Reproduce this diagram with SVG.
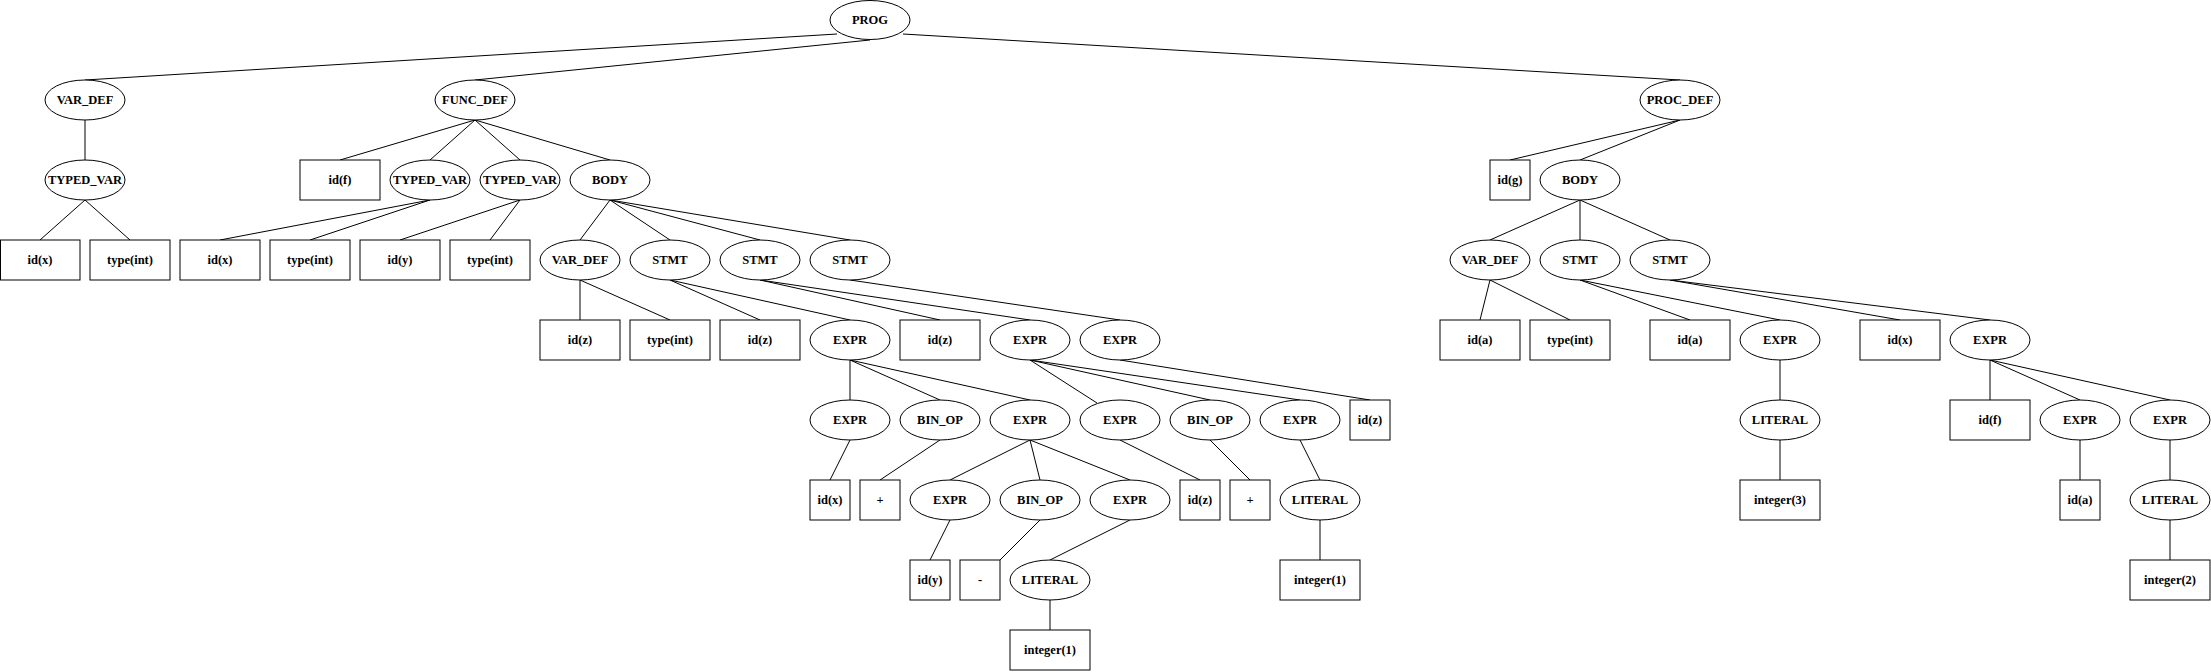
<svg xmlns="http://www.w3.org/2000/svg" width="2211" height="672" viewBox="0 0 2211 672">
<style>
.e{fill:#fff;stroke:#000;stroke-width:1}
.r{fill:#fff;stroke:#000;stroke-width:1}
.t{font-family:"Liberation Serif","Times New Roman",serif;font-weight:bold;font-size:12.5px;text-anchor:middle;dominant-baseline:central;fill:#000}
#edges line{stroke:#000;stroke-width:1}
</style>
<rect width="2211" height="672" fill="#fff"/>
<g id="edges">
<line x1="837" y1="34" x2="85" y2="80"/>
<line x1="870" y1="40" x2="475" y2="80"/>
<line x1="903" y1="34" x2="1680" y2="80"/>
<line x1="85" y1="120" x2="85" y2="160"/>
<line x1="85" y1="200" x2="40" y2="240"/>
<line x1="85" y1="200" x2="130" y2="240"/>
<line x1="475" y1="120" x2="340" y2="160"/>
<line x1="475" y1="120" x2="430" y2="160"/>
<line x1="475" y1="120" x2="520" y2="160"/>
<line x1="475" y1="120" x2="610" y2="160"/>
<line x1="430" y1="200" x2="220" y2="240"/>
<line x1="430" y1="200" x2="310" y2="240"/>
<line x1="520" y1="200" x2="400" y2="240"/>
<line x1="520" y1="200" x2="490" y2="240"/>
<line x1="610" y1="200" x2="580" y2="240"/>
<line x1="610" y1="200" x2="670" y2="240"/>
<line x1="610" y1="200" x2="760" y2="240"/>
<line x1="610" y1="200" x2="850" y2="240"/>
<line x1="580" y1="280" x2="580" y2="320"/>
<line x1="580" y1="280" x2="670" y2="320"/>
<line x1="670" y1="280" x2="760" y2="320"/>
<line x1="670" y1="280" x2="850" y2="320"/>
<line x1="760" y1="280" x2="940" y2="320"/>
<line x1="760" y1="280" x2="1030" y2="320"/>
<line x1="850" y1="280" x2="1120" y2="320"/>
<line x1="850" y1="360" x2="850" y2="400"/>
<line x1="850" y1="360" x2="940" y2="400"/>
<line x1="850" y1="360" x2="1030" y2="400"/>
<line x1="1030" y1="360" x2="1097" y2="403"/>
<line x1="1030" y1="360" x2="1210" y2="400"/>
<line x1="1030" y1="360" x2="1300" y2="400"/>
<line x1="1120" y1="360" x2="1370" y2="400"/>
<line x1="850" y1="440" x2="830" y2="480"/>
<line x1="940" y1="440" x2="880" y2="480"/>
<line x1="1030" y1="440" x2="950" y2="480"/>
<line x1="1030" y1="440" x2="1040" y2="480"/>
<line x1="1030" y1="440" x2="1130" y2="480"/>
<line x1="1120" y1="440" x2="1200" y2="480"/>
<line x1="1210" y1="440" x2="1250" y2="480"/>
<line x1="1300" y1="440" x2="1320" y2="480"/>
<line x1="950" y1="520" x2="930" y2="560"/>
<line x1="1040" y1="520" x2="1000" y2="560"/>
<line x1="1130" y1="520" x2="1050" y2="560"/>
<line x1="1050" y1="600" x2="1050" y2="630"/>
<line x1="1320" y1="520" x2="1320" y2="560"/>
<line x1="1680" y1="120" x2="1510" y2="160"/>
<line x1="1680" y1="120" x2="1580" y2="160"/>
<line x1="1580" y1="200" x2="1490" y2="240"/>
<line x1="1580" y1="200" x2="1580" y2="240"/>
<line x1="1580" y1="200" x2="1670" y2="240"/>
<line x1="1490" y1="280" x2="1480" y2="320"/>
<line x1="1490" y1="280" x2="1570" y2="320"/>
<line x1="1580" y1="280" x2="1690" y2="320"/>
<line x1="1580" y1="280" x2="1780" y2="320"/>
<line x1="1670" y1="280" x2="1900" y2="320"/>
<line x1="1670" y1="280" x2="1990" y2="320"/>
<line x1="1780" y1="360" x2="1780" y2="400"/>
<line x1="1780" y1="440" x2="1780" y2="480"/>
<line x1="1990" y1="360" x2="1990" y2="400"/>
<line x1="1990" y1="360" x2="2080" y2="400"/>
<line x1="1990" y1="360" x2="2170" y2="400"/>
<line x1="2080" y1="440" x2="2080" y2="480"/>
<line x1="2170" y1="440" x2="2170" y2="480"/>
<line x1="2170" y1="520" x2="2170" y2="560"/>
</g>
<g id="n1"><ellipse class="e" cx="870" cy="20" rx="40" ry="19.5"/><text class="t" x="870" y="20">PROG</text></g>
<g id="n2"><ellipse class="e" cx="85" cy="100" rx="40" ry="20"/><text class="t" x="85" y="100">VAR_DEF</text></g>
<g id="n3"><ellipse class="e" cx="475" cy="100" rx="40" ry="20"/><text class="t" x="475" y="100">FUNC_DEF</text></g>
<g id="n4"><ellipse class="e" cx="1680" cy="100" rx="40" ry="20"/><text class="t" x="1680" y="100">PROC_DEF</text></g>
<g id="n5"><ellipse class="e" cx="85" cy="180" rx="40" ry="20"/><text class="t" x="85" y="180">TYPED_VAR</text></g>
<g id="n6"><rect class="r" x="300" y="160" width="80" height="40"/><text class="t" x="340" y="180">id(f)</text></g>
<g id="n7"><ellipse class="e" cx="430" cy="180" rx="40" ry="20"/><text class="t" x="430" y="180">TYPED_VAR</text></g>
<g id="n8"><ellipse class="e" cx="520" cy="180" rx="40" ry="20"/><text class="t" x="520" y="180">TYPED_VAR</text></g>
<g id="n9"><ellipse class="e" cx="610" cy="180" rx="40" ry="20"/><text class="t" x="610" y="180">BODY</text></g>
<g id="n10"><rect class="r" x="1490" y="160" width="40" height="40"/><text class="t" x="1510" y="180">id(g)</text></g>
<g id="n11"><ellipse class="e" cx="1580" cy="180" rx="40" ry="20"/><text class="t" x="1580" y="180">BODY</text></g>
<g id="n12"><rect class="r" x="0.5" y="240" width="79.5" height="40"/><text class="t" x="40" y="260">id(x)</text></g>
<g id="n13"><rect class="r" x="90" y="240" width="80" height="40"/><text class="t" x="130" y="260">type(int)</text></g>
<g id="n14"><rect class="r" x="180" y="240" width="80" height="40"/><text class="t" x="220" y="260">id(x)</text></g>
<g id="n15"><rect class="r" x="270" y="240" width="80" height="40"/><text class="t" x="310" y="260">type(int)</text></g>
<g id="n16"><rect class="r" x="360" y="240" width="80" height="40"/><text class="t" x="400" y="260">id(y)</text></g>
<g id="n17"><rect class="r" x="450" y="240" width="80" height="40"/><text class="t" x="490" y="260">type(int)</text></g>
<g id="n18"><ellipse class="e" cx="580" cy="260" rx="40" ry="20"/><text class="t" x="580" y="260">VAR_DEF</text></g>
<g id="n19"><ellipse class="e" cx="670" cy="260" rx="40" ry="20"/><text class="t" x="670" y="260">STMT</text></g>
<g id="n20"><ellipse class="e" cx="760" cy="260" rx="40" ry="20"/><text class="t" x="760" y="260">STMT</text></g>
<g id="n21"><ellipse class="e" cx="850" cy="260" rx="40" ry="20"/><text class="t" x="850" y="260">STMT</text></g>
<g id="n22"><ellipse class="e" cx="1490" cy="260" rx="40" ry="20"/><text class="t" x="1490" y="260">VAR_DEF</text></g>
<g id="n23"><ellipse class="e" cx="1580" cy="260" rx="40" ry="20"/><text class="t" x="1580" y="260">STMT</text></g>
<g id="n24"><ellipse class="e" cx="1670" cy="260" rx="40" ry="20"/><text class="t" x="1670" y="260">STMT</text></g>
<g id="n25"><rect class="r" x="540" y="320" width="80" height="40"/><text class="t" x="580" y="340">id(z)</text></g>
<g id="n26"><rect class="r" x="630" y="320" width="80" height="40"/><text class="t" x="670" y="340">type(int)</text></g>
<g id="n27"><rect class="r" x="720" y="320" width="80" height="40"/><text class="t" x="760" y="340">id(z)</text></g>
<g id="n28"><ellipse class="e" cx="850" cy="340" rx="40" ry="20"/><text class="t" x="850" y="340">EXPR</text></g>
<g id="n29"><rect class="r" x="900" y="320" width="80" height="40"/><text class="t" x="940" y="340">id(z)</text></g>
<g id="n30"><ellipse class="e" cx="1030" cy="340" rx="40" ry="20"/><text class="t" x="1030" y="340">EXPR</text></g>
<g id="n31"><ellipse class="e" cx="1120" cy="340" rx="40" ry="20"/><text class="t" x="1120" y="340">EXPR</text></g>
<g id="n32"><rect class="r" x="1440" y="320" width="80" height="40"/><text class="t" x="1480" y="340">id(a)</text></g>
<g id="n33"><rect class="r" x="1530" y="320" width="80" height="40"/><text class="t" x="1570" y="340">type(int)</text></g>
<g id="n34"><rect class="r" x="1650" y="320" width="80" height="40"/><text class="t" x="1690" y="340">id(a)</text></g>
<g id="n35"><ellipse class="e" cx="1780" cy="340" rx="40" ry="20"/><text class="t" x="1780" y="340">EXPR</text></g>
<g id="n36"><rect class="r" x="1860" y="320" width="80" height="40"/><text class="t" x="1900" y="340">id(x)</text></g>
<g id="n37"><ellipse class="e" cx="1990" cy="340" rx="40" ry="20"/><text class="t" x="1990" y="340">EXPR</text></g>
<g id="n38"><ellipse class="e" cx="850" cy="420" rx="40" ry="20"/><text class="t" x="850" y="420">EXPR</text></g>
<g id="n39"><ellipse class="e" cx="940" cy="420" rx="40" ry="20"/><text class="t" x="940" y="420">BIN_OP</text></g>
<g id="n40"><ellipse class="e" cx="1030" cy="420" rx="40" ry="20"/><text class="t" x="1030" y="420">EXPR</text></g>
<g id="n41"><ellipse class="e" cx="1120" cy="420" rx="40" ry="20"/><text class="t" x="1120" y="420">EXPR</text></g>
<g id="n42"><ellipse class="e" cx="1210" cy="420" rx="40" ry="20"/><text class="t" x="1210" y="420">BIN_OP</text></g>
<g id="n43"><ellipse class="e" cx="1300" cy="420" rx="40" ry="20"/><text class="t" x="1300" y="420">EXPR</text></g>
<g id="n44"><rect class="r" x="1350" y="400" width="40" height="40"/><text class="t" x="1370" y="420">id(z)</text></g>
<g id="n45"><ellipse class="e" cx="1780" cy="420" rx="40" ry="20"/><text class="t" x="1780" y="420">LITERAL</text></g>
<g id="n46"><rect class="r" x="1950" y="400" width="80" height="40"/><text class="t" x="1990" y="420">id(f)</text></g>
<g id="n47"><ellipse class="e" cx="2080" cy="420" rx="40" ry="20"/><text class="t" x="2080" y="420">EXPR</text></g>
<g id="n48"><ellipse class="e" cx="2170" cy="420" rx="40" ry="20"/><text class="t" x="2170" y="420">EXPR</text></g>
<g id="n49"><rect class="r" x="810" y="480" width="40" height="40"/><text class="t" x="830" y="500">id(x)</text></g>
<g id="n50"><rect class="r" x="860" y="480" width="40" height="40"/><text class="t" x="880" y="500">+</text></g>
<g id="n51"><ellipse class="e" cx="950" cy="500" rx="40" ry="20"/><text class="t" x="950" y="500">EXPR</text></g>
<g id="n52"><ellipse class="e" cx="1040" cy="500" rx="40" ry="20"/><text class="t" x="1040" y="500">BIN_OP</text></g>
<g id="n53"><ellipse class="e" cx="1130" cy="500" rx="40" ry="20"/><text class="t" x="1130" y="500">EXPR</text></g>
<g id="n54"><rect class="r" x="1180" y="480" width="40" height="40"/><text class="t" x="1200" y="500">id(z)</text></g>
<g id="n55"><rect class="r" x="1230" y="480" width="40" height="40"/><text class="t" x="1250" y="500">+</text></g>
<g id="n56"><ellipse class="e" cx="1320" cy="500" rx="40" ry="20"/><text class="t" x="1320" y="500">LITERAL</text></g>
<g id="n57"><rect class="r" x="1740" y="480" width="80" height="40"/><text class="t" x="1780" y="500">integer(3)</text></g>
<g id="n58"><rect class="r" x="2060" y="480" width="40" height="40"/><text class="t" x="2080" y="500">id(a)</text></g>
<g id="n59"><ellipse class="e" cx="2170" cy="500" rx="40" ry="20"/><text class="t" x="2170" y="500">LITERAL</text></g>
<g id="n60"><rect class="r" x="910" y="560" width="40" height="40"/><text class="t" x="930" y="580">id(y)</text></g>
<g id="n61"><rect class="r" x="960" y="560" width="40" height="40"/><text class="t" x="980" y="580">-</text></g>
<g id="n62"><ellipse class="e" cx="1050" cy="580" rx="40" ry="20"/><text class="t" x="1050" y="580">LITERAL</text></g>
<g id="n63"><rect class="r" x="1280" y="560" width="80" height="40"/><text class="t" x="1320" y="580">integer(1)</text></g>
<g id="n64"><rect class="r" x="2130" y="560" width="80" height="40"/><text class="t" x="2170" y="580">integer(2)</text></g>
<g id="n65"><rect class="r" x="1010" y="630" width="80" height="40"/><text class="t" x="1050" y="650">integer(1)</text></g>
</svg>
